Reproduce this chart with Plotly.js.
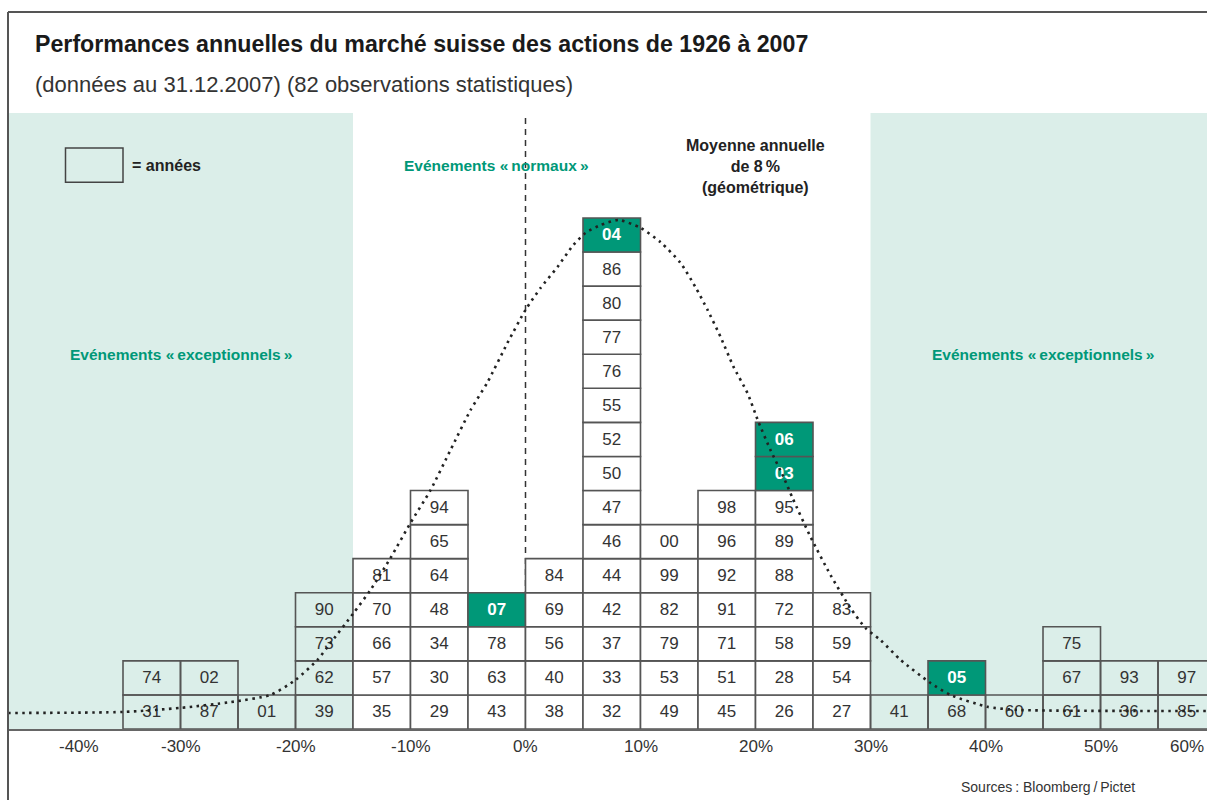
<!DOCTYPE html>
<html>
<head>
<meta charset="utf-8">
<script src="https://cdn.plot.ly/plotly-3.0.1.min.js"></script>
<style>html,body{margin:0;padding:0;background:#fff;}#chart{width:1207px;height:800px;}</style>
</head>
<body>
<div id="chart"></div>
<script>
// ---- DATA ----
const binCenters = [-32.5,-27.5,-22.5,-17.5,-12.5,-7.5,-2.5,2.5,7.5,12.5,17.5,22.5,27.5,32.5,37.5,42.5,47.5,52.5,57.5];
const yearsByBin = [
  ["31","74"],
  ["87","02"],
  ["01"],
  ["39","62","73","90"],
  ["35","57","66","70","81"],
  ["29","30","34","48","64","65","94"],
  ["43","63","78","07"],
  ["38","40","56","69","84"],
  ["32","33","37","42","44","46","47","50","52","55","76","77","80","86","04"],
  ["49","53","79","82","99","00"],
  ["45","51","71","91","92","96","98"],
  ["26","28","58","72","88","89","95","03","06"],
  ["27","54","59","83"],
  ["41"],
  ["68","05"],
  ["60"],
  ["61","67","75"],
  ["36","93"],
  ["85","97"]
];
const highlightYears = ["03","04","05","06","07"];
const normalRange = [-15, 30];
const curveX = [-45,-35,-30,-25.65,-22.17,-20,-18.09,-16.96,-14.96,-13.48,-11.74,-10,-8.26,-6.52,-4.78,-3.3,-1.57,0,1.3,2.78,4.17,5.22,6.52,8.09,10,11.74,13.48,14.78,15.83,16.96,18.09,19.3,20.26,21.3,22.43,23.22,24.78,26.52,28.26,29.57,30.87,32.61,35.22,36.96,40.17,42.78,59.3];
const curveY = [0.47,0.5,0.62,0.79,1.0,1.44,2.03,2.52,3.4,4.08,5.02,6.05,7.01,8.19,9.36,10.18,11.33,12.3,12.94,13.56,14.21,14.56,14.79,14.94,14.71,14.29,13.68,12.97,12.3,11.51,10.63,9.86,9.01,8.19,7.4,6.78,5.64,4.52,3.55,2.96,2.61,2.03,1.35,1.0,0.65,0.56,0.53];
const tickVals = [-40,-30,-20,-10,0,10,20,30,40,50,60];
const tickText = ["-40%","-30%","-20%","-10%","0%","10%","20%","30%","40%","50%","60%"];

// ---- STYLE ----
const TEAL = "#009878";
const SHADE = "#dbeee9";
const FONT = "Liberation Sans, Arial, sans-serif";
const XRANGE = [-45, 59.26];
const TS = "\u2009";

const bx = [], by = [], bbase = [], btext = [], bfill = [], btc = [];
binCenters.forEach((c, i) => {
  yearsByBin[i].forEach((yr, j) => {
    const hl = highlightYears.includes(yr);
    bx.push(c); by.push(1); bbase.push(j);
    btext.push(hl ? "<b>" + yr + "</b>" : yr);
    bfill.push(hl ? TEAL : (c > normalRange[0] && c < normalRange[1] ? "#ffffff" : "rgba(0,0,0,0)"));
    btc.push(hl ? "#ffffff" : "#333333");
  });
});

const bars = {
  type: "bar", x: bx, y: by, base: bbase, width: 5,
  text: btext, textposition: "inside", insidetextanchor: "middle", textangle: 0,
  constraintext: "none",
  textfont: {family: FONT, size: 17, color: btc},
  marker: {color: bfill, line: {color: "#555", width: 1.6}},
  hoverinfo: "skip", showlegend: false
};
const curve = {
  type: "scatter", mode: "lines", x: curveX, y: curveY,
  line: {color: "#222", width: 2.6, dash: "2.5px,4.5px", shape: "spline", smoothing: 0.6},
  hoverinfo: "skip", showlegend: false
};

const annotations = [
  {xref:"paper", yref:"paper", x:0.0209, y:1.112, xanchor:"left", yanchor:"middle", showarrow:false,
   text:"<b>Performances annuelles du marché suisse des actions de 1926 à 2007</b>",
   font:{family:FONT, size:23.2, color:"#1a1a1a"}},
  {xref:"paper", yref:"paper", x:0.0209, y:1.047, xanchor:"left", yanchor:"middle", showarrow:false,
   text:"(données au 31.12.2007) (82 observations statistiques)",
   font:{family:FONT, size:22, color:"#333"}},
  {xref:"paper", yref:"paper", x:0.9416, y:-0.094, xanchor:"right", yanchor:"middle", showarrow:false,
   text:"Sources" + TS + ": Bloomberg" + TS + "/" + TS + "Pictet", font:{family:FONT, size:14, color:"#333"}},
  {xref:"x", yref:"y", x:-34.35, y:16.55, xanchor:"left", yanchor:"middle", showarrow:false,
   text:"<b>= années</b>", font:{family:FONT, size:16, color:"#222"}},
  {xref:"x", yref:"y", x:-2.52, y:16.55, xanchor:"center", yanchor:"middle", showarrow:false,
   text:"<b>Evénements «" + TS + "normaux" + TS + "»</b>", font:{family:FONT, size:15.5, color:TEAL}},
  {xref:"x", yref:"y", x:20, y:16.52, xanchor:"center", yanchor:"middle", showarrow:false,
   text:"<b>Moyenne annuelle<br>de 8" + TS + "%<br>(géométrique)</b>", font:{family:FONT, size:16, color:"#222"}},
  {xref:"x", yref:"y", x:-30, y:10.98, xanchor:"center", yanchor:"middle", showarrow:false,
   text:"<b>Evénements «" + TS + "exceptionnels" + TS + "»</b>", font:{family:FONT, size:15.5, color:TEAL}},
  {xref:"x", yref:"y", x:45, y:10.98, xanchor:"center", yanchor:"middle", showarrow:false,
   text:"<b>Evénements «" + TS + "exceptionnels" + TS + "»</b>", font:{family:FONT, size:15.5, color:TEAL}}
];
tickVals.forEach((v, i) => {
  const a = {xref:"x", yref:"paper", x:v, y:-0.029, xanchor:"center", yanchor:"middle",
    showarrow:false, text:tickText[i], font:{family:FONT, size:17, color:"#333"}};
  if (i === 0) a.xshift = 13;
  if (v > XRANGE[1]) { a.x = XRANGE[1]; a.xanchor = "right"; a.xshift = -1; }
  annotations.push(a);
});

const shapes = [
  {type:"rect", xref:"x", yref:"paper", x0:-45, x1:normalRange[0], y0:0, y1:1, fillcolor:SHADE, line:{width:0}, layer:"below"},
  {type:"rect", xref:"x", yref:"paper", x0:normalRange[1], x1:60, y0:0, y1:1, fillcolor:SHADE, line:{width:0}, layer:"below"},
  {type:"line", xref:"x", yref:"paper", x0:0, x1:0, y0:0, y1:1, line:{color:"#333", width:1.5, dash:"6px,5px"}, layer:"below"},
  {type:"rect", xref:"x", yref:"y", x0:-40, x1:-35, y0:16.05, y1:17.05, line:{color:"#444", width:1.5}, fillcolor:"rgba(0,0,0,0)"},
  {type:"line", xref:"paper", yref:"paper", x0:0, x1:1, y0:1.164, y1:1.164, line:{color:"#555", width:2}},
  {type:"line", xref:"paper", yref:"paper", x0:0, x1:0, y0:-0.12, y1:1.164, line:{color:"#555", width:2}}
];

const layout = {
  width:1207, height:800,
  margin:{l:8, r:0, t:113, b:71, pad:0},
  paper_bgcolor:"#fff", plot_bgcolor:"rgba(0,0,0,0)",
  barmode:"overlay",
  xaxis:{range:XRANGE, showgrid:false, zeroline:false, showticklabels:false, ticks:"",
         showline:true, linecolor:"#666", linewidth:2, fixedrange:true},
  yaxis:{range:[0, 18.08], visible:false, fixedrange:true},
  showlegend:false,
  annotations: annotations,
  shapes: shapes,
  font:{family:FONT}
};

Plotly.newPlot("chart", [bars, curve], layout, {displayModeBar:false, staticPlot:true});
</script>
</body>
</html>
